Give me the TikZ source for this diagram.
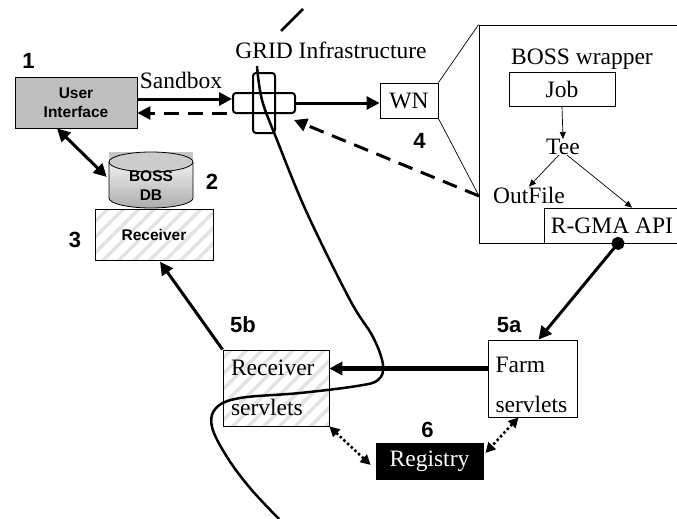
\documentclass[tikz,border=0pt]{standalone}
\usepackage{fontspec}
\setmainfont{Liberation Serif}
\setsansfont{Liberation Sans}
\usetikzlibrary{arrows.meta,patterns.meta}

\begin{document}
\begin{tikzpicture}[x=1pt, y=-1pt,
    box/.style={draw, line width=0.8pt, inner sep=0pt, font=\fontsize{23.5}{26}\selectfont},
    word/.style={inner sep=0pt, font=\fontsize{23.5}{26}\selectfont},
    tag/.style={inner sep=0pt, font=\sffamily\bfseries\fontsize{22}{24}\selectfont},
    bold/.style={font=\sffamily\bfseries\fontsize{15.5}{19}\selectfont, align=center},
    hatch/.style={preaction={fill=white}, pattern={Lines[angle=45, distance=11pt, line width=3.5pt]}, pattern color=gray!22},
    cross/.style={draw, line width=2pt, rounded corners=3pt, inner sep=0pt},
    fat/.style={line width=3pt, -{Triangle[length=13pt, width=13pt]}},
    small/.style={line width=0.7pt, -{Triangle[length=7pt, width=6pt]}},
    dots/.style={line width=2.5pt, dash pattern=on 2.5pt off 2.5pt, {Triangle[length=10pt, width=10pt]}-{Triangle[length=10pt, width=10pt]}}
  ]
  \useasboundingbox (0,0) rectangle (677,519);

  % local side
  \node[box, fill=gray!50, bold, minimum width=122pt, minimum height=51pt] (ui) at (76,102.5) {User\\Interface};
  \node[box, hatch, bold, minimum width=118pt, minimum height=51pt] (recv) at (154,234.5) {Receiver};
  % database drum
  \fill[gray!45] (109,152) rectangle (193,162);
  \shade[top color=white, bottom color=gray!65] (109,162) -- (109,198) arc (180:0:42 and 10)
    -- (193,162) arc (0:-180:42 and 10) -- cycle;
  \fill[gray!40] (151,162) ellipse [x radius=42, y radius=10];
  \draw[line width=0.8pt] (109,162) -- (109,198) arc (180:0:42 and 10)
    -- (193,162) arc (0:-180:42 and 10) -- cycle;
  \draw[line width=0.8pt] (109,162) arc (180:0:42 and 10);
  \node[inner sep=0pt, minimum width=84pt, minimum height=56pt] (db) at (151,180) {};
  \node[bold] at (151,186) {BOSS\\DB};
  \node[tag] at (28.5,61) {1};
  \node[tag] at (212,182) {2};
  \node[tag] at (75,239.5) {3};

  % grid
  \node[cross, minimum width=22pt, minimum height=60pt] (gridv) at (264,103) {};
  \node[cross, minimum width=62pt, minimum height=20pt] (grid) at (264,103) {};
  \node[word] at (181,80) {Sandbox};
  \node[word] at (331,50) {GRID Infrastructure};
  \node[box, minimum width=58pt, minimum height=35pt] (wn) at (409,100.5) {WN};
  \node[tag] at (419.5,141) {4};

  % worker node zoom
  \node[draw, line width=0.8pt, minimum width=201pt, minimum height=218pt] (wrap) at (579.5,134) {};
  \coordinate (wlink) at (479,196);
  \node[word] at (582,59.5) {BOSS wrapper};
  \node[box, minimum width=106pt, minimum height=34pt] (job) at (562,89) {Job};
  \node[word] (tee) at (563,147) {Tee};
  \node[word] (outfile) at (529,195) {OutFile};
  \node[box, minimum width=136pt, minimum height=35pt] (rgma) at (612,225.5) {R-GMA API};

  % servlets
  \node[box, hatch, minimum width=106pt, minimum height=76pt, text width=90pt, align=left,
    font=\fontsize{23.5}{40}\selectfont] (rs) at (276,388) {Receiver\\servlets};
  \node[box, minimum width=89pt, minimum height=77pt, text width=74pt, align=left,
    font=\fontsize{23.5}{40}\selectfont] (farm) at (532.5,378.5) {\strut Farm\\servlets};
  \node[box, fill=black, text=white, minimum width=107pt, minimum height=36pt] (reg) at (429.5,461) {Registry};
  \node[tag] at (243,325) {5b};
  \node[tag] at (509,325) {5a};
  \node[tag] at (427.5,429.5) {6};

  % dividing line
  \draw[line width=2.5pt] (303,9) -- (281,31);
  \draw[line width=2.5pt] plot[smooth, tension=0.6] coordinates {(257,66) (262,100) (277,140)
    (307,213) (350,300) (373,337) (383,365) (378,380) (357,386) (300,393) (240,398)
    (216,408) (212,427) (227,457) (250,488) (279,519)};

  % connectors
  \draw[fat] ([yshift=3.5pt]ui.east) -- ([yshift=3.5pt]ui.east -| grid.west);
  \draw[fat, dash pattern=on 15pt off 9pt] ([xshift=-5pt, yshift=-10pt]grid.west) -- ([yshift=-10pt]grid.west -| ui.east);
  \draw[fat] (grid.east) -- (grid.east -| wn.west);
  \draw[line width=0.7pt] (wn.north east) -- (wrap.north west);
  \draw[line width=0.7pt] (wn.south east) -- (wlink);
  \draw[fat, dash pattern=on 15pt off 9pt] (wlink) -- ([xshift=-2pt, yshift=-6pt]grid.south east);
  \draw[small] (job.south) -- (tee.north);
  \draw[small] ([xshift=-4pt]tee.south) -- (outfile.north);
  \draw[small] ([xshift=4pt]tee.south) -- ([xshift=20pt]rgma.north);
  \draw[line width=3pt, {Circle[length=13pt]}-{Triangle[length=13pt, width=13pt]}, shorten <=-6.5pt]
    ([xshift=6pt]rgma.south) -- ([xshift=6pt]farm.north);
  \draw[line width=3pt, {Triangle[length=13pt, width=13pt]}-{Triangle[length=13pt, width=13pt]}]
    ([xshift=-19pt]ui.south) -- ([xshift=-2pt, yshift=3pt]db.west);
  \draw[fat] (rs.north west) -- ([xshift=6pt]recv.south);
  \draw[fat, line width=4.5pt] ([yshift=10pt]farm.west) -- ([yshift=10pt]farm.west -| rs.east);
  \draw[dots] (rs.south east) -- ([xshift=-5pt, yshift=-4pt]reg.west);
  \draw[dots] ([xshift=-14pt]farm.south) -- ([xshift=2pt, yshift=8pt]reg.east);
\end{tikzpicture}
\end{document}
